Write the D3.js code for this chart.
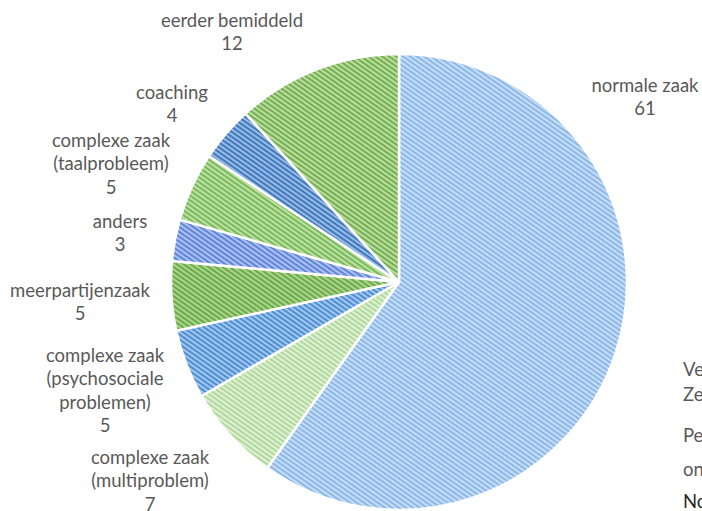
<!DOCTYPE html>
<html><head><meta charset="utf-8">
<script src="https://cdn.jsdelivr.net/npm/d3@7/dist/d3.min.js"></script>
<style>html,body{margin:0;padding:0;background:#fff;overflow:hidden}</style>
</head><body><svg id="c" width="702" height="511"></svg>
<script>
const categories = ["normale zaak","complexe zaak (multiproblem)","complexe zaak (psychosociale problemen)","meerpartijenzaak","anders","complexe zaak (taalprobleem)","coaching","eerder bemiddeld"];
const values = [61,7,5,5,3,5,4,12];
const labelLines = [["normale zaak"],["complexe zaak","(multiproblem)"],["complexe zaak","(psychosociale","problemen)"],["meerpartijenzaak"],["anders"],["complexe zaak","(taalprobleem)"],["coaching"],["eerder bemiddeld"]];
const baseColors = ["#c6ddf5","#dff0d4","#a3c7ec","#acd490","#adc1f0","#bde0a6","#98bbe2","#bbdda2"];
const stripeColors = ["#86b5e7","#acd797","#4689d4","#64a83e","#587fd8","#72b750","#3872bd","#6cac46"];
const sideNotes = ["Ve","Ze","Pe","on","No"];

// layout (not data)
const cx = 399, cy = 282, R = 228;
const labelAnchor = [[645,86],[150,458],[105,356],[80,291],[120,222],[111,141],[172,93],[232,21]];
const lineH = 23.3;

const svg = d3.select("#c");
const defs = svg.append("defs");
values.forEach((v,i)=>{
  const p = defs.append("pattern").attr("id","p"+i).attr("patternUnits","userSpaceOnUse")
    .attr("width",4).attr("height",4).attr("patternTransform","rotate(35)");
  p.append("rect").attr("width",4).attr("height",4).attr("fill",baseColors[i]);
  p.append("rect").attr("width",4).attr("height",1.8).attr("fill",stripeColors[i]);
});

const pie = d3.pie().sort(null).value(d=>d);
const arc = d3.arc().innerRadius(0).outerRadius(R);
const g = svg.append("g").attr("transform",`translate(${cx},${cy})`);
g.selectAll("path").data(pie(values)).join("path")
  .attr("d",arc).attr("fill",(d,i)=>`url(#p${i})`)
  .attr("stroke","#fff").attr("stroke-width",2.5).attr("stroke-linejoin","round");

const font = "Lato, 'Open Sans', sans-serif";
values.forEach((v,i)=>{
  const lines = labelLines[i].concat([String(v)]);
  const [x,y] = labelAnchor[i];
  const t = svg.append("text").attr("text-anchor","middle").attr("font-family",font)
    .attr("font-size",18.5).attr("fill","#595959");
  lines.forEach((s,k)=>t.append("tspan").attr("x",x).attr("y",y+k*lineH).attr("dy","0.33em").text(s));
});

const noteY = [370,395,436,470,502];
sideNotes.forEach((s,k)=>{
  svg.append("text").attr("x",683).attr("y",noteY[k]).attr("dy","0.35em")
    .attr("font-family",font).attr("font-size",18.5)
    .attr("fill",k===4?"#262626":"#595959").text(s);
});
</script></body></html>
